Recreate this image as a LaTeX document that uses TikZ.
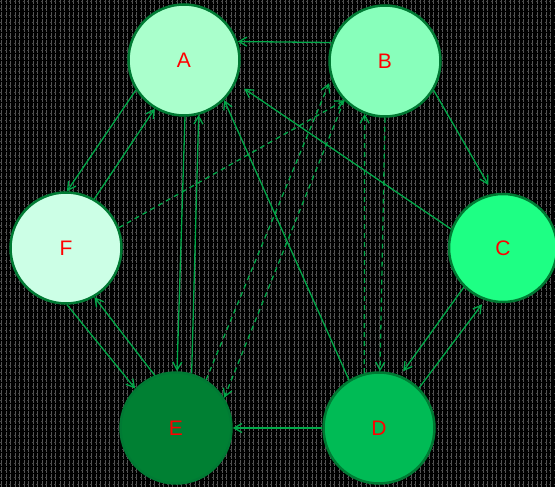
\documentclass[tikz,border=0pt]{standalone}
\usepackage{fontspec}
\setmainfont{Liberation Sans}
\usetikzlibrary{arrows.meta}
\definecolor{ringgreen}{HTML}{007A33}
\definecolor{edgegreen}{HTML}{00A848}
\definecolor{fillA}{HTML}{AAFFCC}
\definecolor{fillB}{HTML}{88FFBB}
\definecolor{fillC}{HTML}{1EFF84}
\definecolor{fillD}{HTML}{00BB55}
\definecolor{fillE}{HTML}{008033}
\definecolor{fillF}{HTML}{CCFFE6}
\definecolor{gridgray}{HTML}{555555}

\begin{document}
\begin{tikzpicture}[x=1pt, y=1pt,
  vertex/.style={circle, draw=ringgreen, line width=2.5pt, inner sep=0pt, minimum size=111pt, font=\fontsize{21}{21}\selectfont, text=red},
  link/.style={draw=edgegreen, line width=1.3pt, -{Straight Barb[length=8pt, width=9pt]}},
  dlink/.style={link, dash pattern=on 5pt off 4pt}]
\useasboundingbox (0,0) rectangle (555,487);
% backdrop
\fill[black] (0,0) rectangle (555,487);
\foreach \x in {1.5,6,...,555} \draw[gridgray, line width=1pt, dash pattern=on 6pt off 1pt] (\x,0) -- (\x,487);
\foreach \y in {3,10,...,487} \draw[gridgray!85!black, line width=0.8pt, dash pattern=on 2pt off 2.5pt] (0,\y) -- (555,\y);
% vertices
\node[vertex, fill=fillA] (A) at (184,427) {A};
\node[vertex, fill=fillB] (B) at (385,426) {B};
\node[vertex, fill=fillC, minimum size=108pt] (C) at (503,239) {C};
\node[vertex, fill=fillF] (F) at (66,239) {F};
\node[vertex, fill=fillE] (E) at (176,59) {E};
\node[vertex, fill=fillD] (D) at (379,59) {D};
% edges
\draw[link] (B.161) -- (A.19);
\draw[link] (A.212) -- (F.89);
\draw[link] (F.60) -- (A.239);
\draw[link] (F.271) -- (E.136);
\draw[link] (E.112) -- (F.300);
\draw[link] (A.271) -- (E.89);
\draw[link] (E.74) -- (A.285);
\draw[link] (D.122) -- (A.315);
\draw[link, shorten >=10pt] (C.160) -- (A.336);
\draw[dlink] (F.21) -- (B.224);
\draw[dlink, shorten >=5pt] (E.58) -- (B.198);
\draw[dlink] (B.224) -- (E.32);
\draw[dlink] (D.105) -- (B.249);
\draw[dlink] (B.270) -- (D.89);
\draw[link, shorten >=10pt] (B.329) -- (C.100);
\draw[link, shorten >=5pt] (C.225) -- (D.68);
\draw[link, shorten >=5pt] (D.45) -- (C.251);
\draw[link] (D.180) -- (E.0);
\end{tikzpicture}
\end{document}
